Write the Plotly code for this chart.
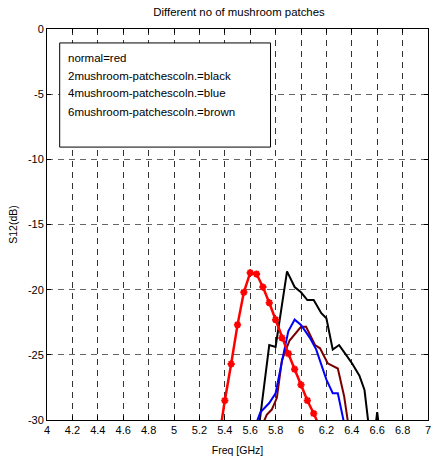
import plotly.graph_objects as go

# Data
red_x = [5.35, 5.40, 5.45, 5.50, 5.55, 5.60, 5.65, 5.70, 5.75, 5.80, 5.85, 5.90, 5.95, 6.00, 6.05, 6.10, 6.15]
red_y = [-31.7, -28.5, -25.7, -22.7, -20.2, -18.7, -18.8, -19.8, -21.0, -22.3, -23.7, -24.9, -26.1, -27.3, -28.5, -29.5, -30.6]

black_x = [5.65, 5.69, 5.75, 5.80, 5.89, 5.95, 6.00, 6.05, 6.10, 6.16, 6.20, 6.25, 6.30, 6.355, 6.405, 6.46, 6.50, 6.54, 6.58, 6.60, 6.62]
black_y = [-32.0, -28.9, -24.25, -24.4, -18.6, -19.8, -20.2, -20.8, -20.8, -21.8, -22.2, -24.6, -24.25, -25.0, -25.7, -26.6, -27.7, -31.0, -31.0, -29.4, -31.0]

blue_x = [5.62, 5.68, 5.75, 5.80, 5.85, 5.90, 5.95, 6.00, 6.07, 6.12, 6.20, 6.25, 6.29, 6.36]
blue_y = [-31.0, -29.4, -28.7, -27.95, -25.5, -23.2, -22.3, -22.7, -23.7, -24.6, -26.9, -27.95, -27.95, -31.2]

brown_x = [5.67, 5.73, 5.77, 5.81, 5.85, 5.91, 6.00, 6.04, 6.11, 6.15, 6.21, 6.29, 6.34, 6.39]
brown_y = [-31.0, -29.6, -29.2, -28.3, -25.4, -23.9, -22.85, -22.85, -24.25, -24.5, -25.65, -26.05, -28.2, -31.5]

x_ticks = [4.0, 4.2, 4.4, 4.6, 4.8, 5.0, 5.2, 5.4, 5.6, 5.8, 6.0, 6.2, 6.4, 6.6, 6.8, 7.0]
x_labels = ["4", "4.2", "4.4", "4.6", "4.8", "5", "5.2", "5.4", "5.6", "5.8", "6", "6.2", "6.4", "6.6", "6.8", "7"]
y_ticks = [0, -5, -10, -15, -20, -25, -30]
y_labels = ["0", "-5", "-10", "-15", "-20", "-25", "-30"]

legend_lines = ["normal=red", "2mushroom-patchescoln.=black",
                "4mushroom-patchescoln.=blue", "6mushroom-patchescoln.=brown"]
legend_y = [-2.25, -3.61, -4.93, -6.35]

FONT = "Liberation Sans, Arial, sans-serif"

fig = go.Figure()
fig.add_trace(go.Scatter(x=black_x, y=black_y, mode="lines",
                         line=dict(color="#000000", width=2), showlegend=False))
fig.add_trace(go.Scatter(x=brown_x, y=brown_y, mode="lines",
                         line=dict(color="#7a0000", width=2), showlegend=False))
fig.add_trace(go.Scatter(x=blue_x, y=blue_y, mode="lines",
                         line=dict(color="#0000ff", width=2), showlegend=False))
fig.add_trace(go.Scatter(x=red_x, y=red_y, mode="lines+markers",
                         line=dict(color="#ff0000", width=2.5),
                         marker=dict(symbol="asterisk-open", size=6, color="#ff0000",
                                     line=dict(color="#ff0000", width=2)),
                         cliponaxis=True, showlegend=False))

# legend box (MATLAB-style text legend)
fig.add_shape(type="rect", xref="x", yref="y", x0=4.10, x1=5.76, y0=-1.07, y1=-9.06,
              line=dict(color="black", width=1), fillcolor="white", layer="above")
for t, yy in zip(legend_lines, legend_y):
    fig.add_annotation(x=4.152, y=yy, xref="x", yref="y", text=t, showarrow=False,
                       xanchor="left", yanchor="middle",
                       font=dict(family=FONT, size=11.5, color="black"))

fig.update_layout(
    width=432, height=459,
    margin=dict(l=47, r=1, t=29, b=39),
    paper_bgcolor="white", plot_bgcolor="white",
    title=dict(text="Different no of mushroom patches", x=0.5533, xanchor="center",
               y=1 - 12 / 459, yanchor="middle",
               font=dict(family=FONT, size=11.4, color="black")),
    font=dict(family=FONT, color="black"),
)
fig.update_xaxes(range=[4, 7], tickvals=x_ticks, ticktext=x_labels,
                 ticks="inside", ticklen=4, tickcolor="black", mirror="ticks",
                 showline=True, linecolor="black", linewidth=1,
                 showgrid=True, gridcolor="#333333", griddash="6px,5px", gridwidth=1,
                 zeroline=False, tickfont=dict(size=11), ticklabeloverflow="allow",
                 title=dict(text="Freq [GHz]", font=dict(size=10.5), standoff=11))
fig.update_yaxes(range=[-30, 0], tickvals=y_ticks, ticktext=y_labels,
                 ticks="inside", ticklen=4, tickcolor="black", mirror="ticks",
                 showline=True, linecolor="black", linewidth=1,
                 showgrid=True, gridcolor="#666666", griddash="6px,5px", gridwidth=1,
                 zeroline=False, tickfont=dict(size=11),
                 title=dict(text="S12(dB)", font=dict(size=10.5), standoff=8))

fig.write_html("out.html")
